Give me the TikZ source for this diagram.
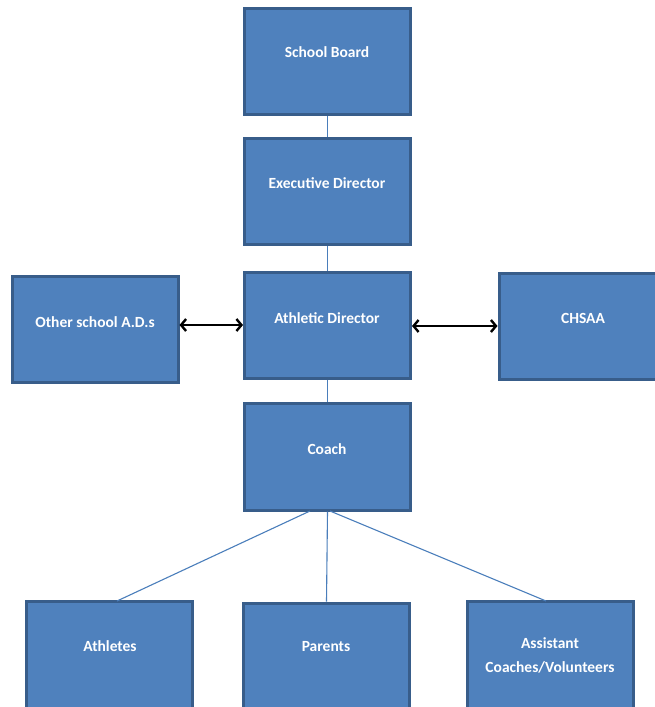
\documentclass[tikz,border=0pt]{standalone}
\usepackage{fontspec}
\setmainfont{Carlito}
\usetikzlibrary{arrows.meta}
\definecolor{boxfill}{HTML}{4F81BD}
\definecolor{boxline}{HTML}{385D8A}
\definecolor{conn}{HTML}{4A7EBB}
\tikzset{
  orgbox/.style={draw=boxline, fill=boxfill, line width=3pt, minimum width=166pt, minimum height=106pt, inner sep=0pt, rectangle},
  orgtext/.style={text=white, font=\fontsize{15.5}{24}\selectfont\bfseries, align=center, inner sep=0pt},
  link/.style={draw=conn, line width=1.1pt},
  biarrow/.style={draw=black, line width=2.4pt, {Straight Barb[length=5pt,width=12pt]}-{Straight Barb[length=5pt,width=12pt]}}
}
\begin{document}
\begin{tikzpicture}[x=1pt,y=-1pt]
\useasboundingbox (0,0) rectangle (655,707);
\clip (0,0) rectangle (655,707);
\fill[white] (0,0) rectangle (655,707);
% boxes
\node[orgbox] (sb) at (327.5,61.5) {};
\node[orgbox] (ed) at (327.5,191.5) {};
\node[orgbox] (ad) at (327.5,325.5) {};
\node[orgbox, minimum width=166pt] (oa) at (95,329) {};
\node[orgbox, minimum width=159pt] (ch) at (578.5,326) {};
\node[orgbox, minimum height=107pt] (co) at (327.5,456.5) {};
\node[orgbox, minimum height=110pt] (at) at (109.5,656) {};
\node[orgbox, minimum height=108pt] (pa) at (326.5,657) {};
\node[orgbox, minimum height=110pt] (as) at (550,656) {};
% texts
\node[orgtext] (sbt) at (327,52) {School Board};
\node[orgtext] (edt) at (327,183) {Executive Director};
\node[orgtext] (adt) at (327,318) {Athletic Director};
\node[orgtext] (oat) at (95,322) {Other school A.D.s};
\node[orgtext] (cht) at (583,318) {CHSAA};
\node[orgtext] (cot) at (327,449) {Coach};
\node[orgtext] (att) at (110,646) {Athletes};
\node[orgtext] (pat) at (326,647) {Parents};
\node[orgtext] (ast) at (550,655) {Assistant\\Coaches/Volunteers};
% connectors
\coordinate (coL) at (310,511);
\coordinate (coR) at (330,511);
\coordinate (atT) at (117,601);
\coordinate (asT) at (546,601);
\draw[link] (sb.south) -- (ed.north);
\draw[link] (ed.south) -- (ad.north);
\draw[link] (ad.south) -- (co.north);
\draw[link] (coL) -- (atT);
\draw[link] (co.south) -- (pa.north);
\draw[link] (coR) -- (asT);
\draw[biarrow] (oa.east |- 0,325) -- (ad.west |- 0,325);
\draw[biarrow] (ad.east |- 0,326) -- (ch.west |- 0,326);
\end{tikzpicture}
\end{document}
